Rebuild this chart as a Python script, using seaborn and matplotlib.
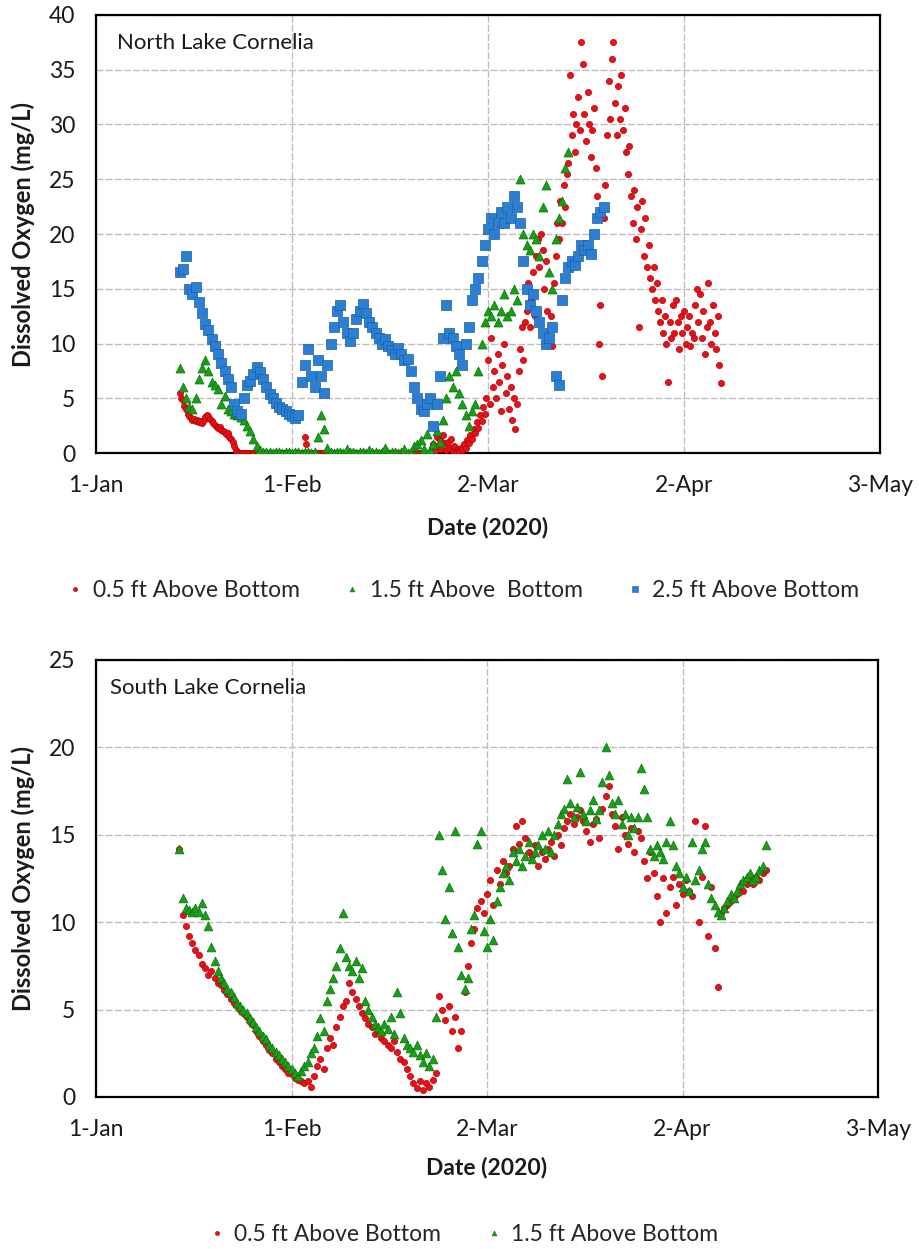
import numpy as np
import pandas as pd
import matplotlib
matplotlib.use("Agg")
import matplotlib.pyplot as plt
from matplotlib.lines import Line2D
import seaborn as sns

# ---------------- data (days after 1-Jan-2020, regular logger sampling) ----------------
x_tick_pos = [0, 30.5, 61, 91.5, 122]
x_tick_labels = ["1-Jan", "1-Feb", "2-Mar", "2-Apr", "3-May"]

# North Lake Cornelia, 0.5 ft above bottom (every 0.25 day from day 13)
north_05_start, north_05_step = 13.0, 0.25
north_05 = [
    5.5, 5.0, 4.8, 4.3,  4.0, 3.6, 3.4, 3.2,  3.0, 3.1, 2.9, 3.0,  2.8, 2.9, 2.7, 3.0,
    3.3, 3.5, 3.4, 3.1,  2.9, 2.7, 2.6, 2.4,  2.3, 2.4, 2.1, 2.0,  1.9, 1.7, 1.8, 1.5,
    1.3, 1.0, 0.6, 0.3,  0.1, 0, 0, 0,
    0, 0, 0, 0,  0, 0, 0, 0,  0, 0, 0, 0,  0, 0, 0, 0,  0, 0, 0, 0,
    0, 0, 0, 0,  0, 0, 0, 0,  0, 0, 0, 0,  0, 0, 0, 0,
    0, 0, 1.5, 0.8,
    0, 0, 0, 0,  0, 0, 0, 0,  0, 0, 0, 0,  0, 0, 0, 0,  0, 0, 0, 0,
    0, 0, 0, 0,  0, 0, 0, 0,  0, 0, 0, 0,  0, 0, 0, 0,  0, 0, 0, 0,
    0, 0, 0, 0,  0, 0, 0, 0,  0, 0, 0, 0,  0, 0, 0, 0,  0, 0, 0, 0,
    0, 0, 0, 0,  0, 0, 0, 0,  0, 0, 0, 0,  0, 0, 0, 0,
    0, 0.3, 0.8, 0.2,  1.5, 0.6, 1.2, 0.4,  1.6, 0.9, 0.3, 1.0,  0.5, 1.3, 0.2, 0.6,
    0.1, 0.4, 0.2, 0.5,  0.3, 0.8, 0.5, 1.2,  0.9, 1.6, 1.3, 2.2,  1.8, 2.8, 2.3, 3.5,
    2.9, 4.2, 3.6, 5.0,  8.5, 4.5, 10.5, 6.0,  7.5, 5.0, 9.0, 6.5,  3.8, 8.0, 10.0, 5.5,
    7.0, 4.0, 6.0, 3.0,  5.0, 2.2, 4.5, 7.5,  9.5, 11.5, 8.5, 12.0,  13.0, 15.5, 11.5, 14.0,
    16.5, 12.5, 18.0, 19.5,  17.0, 20.0, 18.5, 15.0,  17.5, 13.0, 10.5, 12.5,  9.8, 15.5, 18.0, 21.0,
    19.5, 23.0, 21.0, 24.5,  22.5, 25.5, 26.5, 34.5,  29.0, 31.0, 27.5, 30.0,  32.5, 29.5, 37.5, 35.5,
    31.0, 28.5, 33.0, 30.0,  27.0, 29.5, 31.5, 26.0,  23.5, 10.0, 13.5, 7.0,  21.5, 24.5, 29.0, 34.0,
    30.5, 36.0, 37.5, 32.0,  29.0, 33.5, 30.5, 34.5,  29.5, 31.5, 27.5, 25.5,  28.0, 23.5, 21.0, 24.0,
    19.5, 22.5, 11.5, 20.5,  23.0, 18.0, 21.5, 17.0,  19.0, 16.0, 15.0, 17.0,  14.0, 15.5, 13.0, 12.0,
    14.0, 11.0, 12.5, 10.0,  6.5, 12.0, 10.5, 13.5,  11.0, 14.0, 12.0, 9.5,  12.5, 11.0, 13.0, 10.0,
    11.5, 12.5, 9.8, 11.0,  10.5, 13.5, 15.0, 12.0,  14.5, 10.5, 13.0, 9.0,  11.5, 15.5, 12.0, 10.0,
    13.5, 11.0, 9.5, 12.5,  8.0, 6.4,
]

# North Lake Cornelia, 1.5 ft above bottom (every 0.5 day from day 13)
north_15_start, north_15_step = 13.0, 0.5
north_15 = [
    7.8, 6.0,  5.0, 4.2,  4.0, 5.0,  6.8, 7.8,  8.5, 7.5,  6.5, 6.2,  5.8, 4.5,  5.2, 4.0,
    3.8, 3.6,  3.5, 3.3,  3.0, 2.5,  2.0, 1.3,  0.6, 0.3,
    0.1, 0.05,  0.1, 0.0,  0.05, 0.1,  0.0, 0.05,  0.1, 0.0,  0.05, 0.1,  0.0, 0.05,  0.1, 0.0,
    0.1, 1.5,  3.5, 2.2,  0.5, 0.1,
    0.0, 0.05,  0.1, 0.0,  0.4, 0.05,  0.1, 0.0,  0.05, 0.1,  0.0, 0.3,  0.05, 0.1,
    0.0, 0.05,  0.5, 0.0,  0.1, 0.05,  0.0, 0.1,  0.4, 0.0,  0.1, 0.6,
    0.8, 1.2,  0.4, 1.7,  0.3, 0.8,  2.0, 1.0,  3.0, 5.0,  7.0, 6.0,  7.5, 5.5,  4.5, 3.5,
    2.5, 3.8,  4.5, 7.5,  10.0, 12.0,  13.0, 12.5,  13.5, 12.0,  13.0, 14.5,  12.5, 13.0,
    15.0, 14.0,  25.0, 20.0,  19.0, 18.5,  20.0, 19.5,  18.0, 22.5,  24.5, 16.5,  15.0, 19.5,
    21.5, 23.0,  26.0, 27.5,
]

# North Lake Cornelia, 2.5 ft above bottom (every 0.5 day from day 13)
north_25_start, north_25_step = 13.0, 0.5
north_25 = [
    16.5, 16.8,  18.0, 15.0,  14.5, 15.2,  13.8, 12.8,  11.8, 11.2,  10.4, 9.8,  9.0, 8.2,
    7.5, 6.8,  6.0, 4.5,  3.8, 3.6,  5.0, 6.2,  6.6, 7.2,  7.9, 7.4,  6.8, 6.0,  5.4, 5.0,
    4.6, 4.2,  4.0, 3.8,  3.6, 3.4,  3.2, 3.5,  6.5, 8.0,  9.5, 7.0,  6.0, 8.5,  7.0, 5.5,
    8.0, 10.0,  11.5, 13.0,  13.5, 12.0,  11.0, 10.2,  11.0, 12.2,  13.0, 13.6,  12.8, 12.0,
    11.5, 11.0,  10.5, 10.0,  10.4, 9.8,  9.4, 9.0,  9.6, 9.0,  8.5, 8.6,  7.5, 6.0,  5.0, 4.0,
    3.8, 4.5,  5.0, 2.5,  4.5, 7.0,  10.5, 13.5,  11.0, 10.5,  9.8, 9.0,  8.0, 10.0,
    11.5, 14.0,  15.0, 16.0,  17.5, 19.0,  20.5, 21.5,  20.0, 21.0,  22.0, 21.0,  22.5, 21.5,
    23.5, 22.5,  21.0, 17.5,  15.0, 13.5,  14.5, 13.0,  12.0, 11.0,  10.0, 10.5,  11.5, 7.0,
    6.2, 14.0,  16.0, 17.0,  17.5, 17.2,  18.0, 19.0,  18.5, 19.0,  18.2, 20.0,  21.5, 22.0,
    22.5,
]

# South Lake Cornelia, 0.5 ft above bottom (every 0.5 day from day 13)
south_05_start, south_05_step = 13.0, 0.5
south_05 = [
    14.2, 10.4,  9.8, 9.2,  8.8, 8.4,  8.1, 7.6,  7.4, 7.0,  7.2, 6.8,  6.5, 6.4,  6.1, 5.9,
    5.6, 5.4,  5.2, 5.0,  4.8, 4.6,  4.3, 4.1,  3.8, 3.5,  3.2, 3.0,  2.7, 2.5,  2.2, 2.0,
    1.8, 1.6,  1.4, 1.3,  1.1, 1.0,  0.9, 0.8,  0.9, 0.6,  1.2, 1.8,  2.2, 1.6,  2.8, 3.4,
    3.0, 4.0,  4.6, 5.2,  5.5, 6.5,  6.0, 5.6,  5.2, 4.8,  4.5, 4.2,  4.0, 3.6,  3.8, 3.4,
    3.2, 3.0,  2.8, 3.2,  2.6, 2.2,  2.0, 1.6,  1.2, 0.8,  0.5, 0.9,  0.4, 0.8,  0.6, 1.0,
    1.4, 5.8,  5.0, 4.4,  5.2, 3.8,  4.6, 2.8,  3.8, 6.0,  7.5, 8.8,  9.6, 10.8,  11.2, 10.5,
    11.6, 12.4,  11.0, 13.0,  12.2, 13.5,  12.8, 13.2,  14.2, 15.5,  14.5, 15.8,  14.8, 14.0,
    13.8, 14.4,  13.2, 14.0,  13.6, 14.2,  14.6, 13.8,  15.0, 14.4,  15.4, 15.8,  16.2, 15.6,
    16.0, 16.4,  15.8, 15.2,  14.6, 15.6,  15.9, 14.8,  16.5, 17.2,  17.8, 16.2,  15.5, 14.2,
    16.0, 15.0,  14.5, 15.4,  14.0, 15.2,  14.8, 13.5,  12.5, 14.0,  12.8, 11.5,  10.0, 12.5,
    10.5, 12.0,  12.6, 11.0,  12.2, 11.6,  12.4, 11.8,  11.5, 15.8,  10.0, 12.6,  15.5, 9.2,
    12.0, 8.5,  6.3, 10.5,  10.8, 11.0,  11.2, 11.4,  11.6, 12.0,  11.8, 12.2,  12.4, 12.2,
    12.6, 12.4,  12.8, 13.0,
]

# South Lake Cornelia, 1.5 ft above bottom (every 0.5 day from day 13)
south_15_start, south_15_step = 13.0, 0.5
south_15 = [
    14.2, 11.4,  10.8, 10.7,  10.6, 10.8,  10.6, 11.1,  10.4, 9.8,  8.6, 7.8,  7.2, 6.8,
    6.5, 6.2,  6.0, 5.7,  5.4, 5.2,  5.0, 4.8,  4.5, 4.3,  4.0, 3.8,  3.5, 3.3,  3.0, 2.8,
    2.6, 2.4,  2.2, 2.0,  1.8, 1.6,  1.4, 1.2,  1.5, 1.8,  2.0, 2.5,  2.8, 3.5,  4.5, 3.8,
    5.5, 6.2,  6.8, 7.5,  8.5, 10.5,  8.0, 7.5,  7.2, 7.8,  6.8, 7.4,  5.5, 5.0,  4.6, 4.2,
    4.0, 3.8,  4.2, 3.9,  4.6, 3.6,  6.0, 4.8,  3.4, 3.0,  2.8, 2.6,  3.0, 2.4,  2.0, 2.5,
    1.8, 2.2,  4.6, 15.0,  13.0, 10.2,  12.0, 9.4,  15.2, 8.6,  7.0, 6.2,  6.8, 9.6,
    10.4, 14.5,  15.2, 9.5,  8.6, 10.2,  9.0, 11.2,  12.0, 12.8,  13.2, 12.4,  14.0, 13.5,
    14.2, 13.2,  13.8, 14.6,  13.6, 14.0,  14.4, 15.0,  14.2, 15.2,  14.0, 15.0,  15.6, 16.2,
    16.5, 18.2,  16.8, 16.0,  16.6, 18.6,  16.2, 15.8,  16.4, 17.0,  15.9, 16.4,  18.0, 20.0,
    18.4, 16.8,  16.2, 17.0,  15.6, 16.2,  15.0, 16.0,  15.4, 16.0,  18.8, 17.6,  16.0, 14.2,
    13.8, 14.4,  14.0, 13.6,  14.6, 15.8,  14.4, 13.2,  12.8, 12.0,  12.6, 11.8,  14.6, 12.4,
    13.0, 14.2,  14.6, 12.2,  11.4, 11.0,  10.6, 10.4,  10.8, 11.2,  11.6, 11.4,  11.8, 12.2,
    12.4, 12.6,  12.8, 12.4,  12.6, 13.0,  13.2, 14.4,
]

legend_north = ["0.5 ft Above Bottom", "1.5 ft Above  Bottom", "2.5 ft Above Bottom"]
legend_south = ["0.5 ft Above Bottom", "1.5 ft Above Bottom"]


def frame(start, step, values):
    vals = np.asarray(values, dtype=float)
    return pd.DataFrame({"day": start + step * np.arange(len(vals)), "do": vals})


# ---------------- style ----------------
sns.set_style("white")
plt.rcParams["font.family"] = ["Lato", "DejaVu Sans"]

RED, RED_E = "#e5121b", "#b80000"
GREEN, GREEN_E = "#17a017", "#0b720b"
BLUE, BLUE_E = "#2b7fd2", "#1a5ea6"
GRID = "#bdbdbd"
INK = "#1a1a1a"

fig = plt.figure(figsize=(9.19, 12.49), dpi=100)
ax1 = fig.add_axes([0.1045, 0.6373, 0.8531, 0.3507])
ax2 = fig.add_axes([0.1045, 0.1217, 0.8509, 0.3499])

series_north = [
    (frame(north_05_start, north_05_step, north_05), "o", RED, RED_E, 20),
    (frame(north_15_start, north_15_step, north_15), "^", GREEN, GREEN_E, 42),
    (frame(north_25_start, north_25_step, north_25), "s", BLUE, BLUE_E, 50),
]
series_south = [
    (frame(south_05_start, south_05_step, south_05), "o", RED, RED_E, 20),
    (frame(south_15_start, south_15_step, south_15), "^", GREEN, GREEN_E, 40),
]

for ax, series in ((ax1, series_north), (ax2, series_south)):
    for df, mk, fc, ec, sz in series:
        sns.scatterplot(data=df, x="day", y="do", ax=ax, marker=mk, color=fc,
                        edgecolor=ec, linewidth=0.5, s=sz, legend=False, zorder=3)


def style_axes(ax, ymax, title, title_x, xl_y):
    ax.set_xlim(0, 122)
    ax.set_ylim(0, ymax)
    ax.set_xticks(x_tick_pos)
    ax.set_xticklabels(x_tick_labels)
    ax.set_yticks(np.arange(0, ymax + 1, 5))
    ax.tick_params(axis="both", length=0, labelsize=16.5, colors=INK)
    ax.tick_params(axis="x", pad=16)
    ax.tick_params(axis="y", pad=15)
    ax.grid(True, color=GRID, linestyle=(0, (5, 1.6)), linewidth=1.0, zorder=0)
    ax.set_axisbelow(True)
    for sp in ax.spines.values():
        sp.set_visible(True)
        sp.set_color("black")
        sp.set_linewidth(1.6)
    ax.set_xlabel("")
    ax.set_ylabel("")
    ax.text(0.5, xl_y, "Date (2020)", transform=ax.transAxes, ha="center", va="center",
            fontsize=16.5, fontweight="bold", color=INK)
    ax.text(-0.093, 0.5, "Dissolved Oxygen (mg/L)", transform=ax.transAxes, rotation=90,
            ha="center", va="center", fontsize=17, fontweight="bold", color=INK)
    ax.text(title_x, 0.936, title, transform=ax.transAxes,
            ha="left", va="center", fontsize=16, color=INK)


style_axes(ax1, 40, "North Lake Cornelia", 0.027, -0.169)
style_axes(ax2, 25, "South Lake Cornelia", 0.018, -0.162)


def handles(markers):
    return [Line2D([], [], linestyle="", marker=m, markersize=ms, markerfacecolor=c,
                   markeredgecolor=e, markeredgewidth=0.4) for m, c, e, ms in markers]


fig.legend(handles([("o", RED, RED_E, 3), ("^", GREEN, GREEN_E, 3.5), ("s", BLUE, BLUE_E, 4)]),
           legend_north, loc="center", bbox_to_anchor=(0.505, 0.527), ncol=3, frameon=False,
           fontsize=16.5, handlelength=0.6, handletextpad=0.45, columnspacing=2.0)
fig.legend(handles([("o", RED, RED_E, 3), ("^", GREEN, GREEN_E, 3.5)]),
           legend_south, loc="center", bbox_to_anchor=(0.505, 0.0115), ncol=2, frameon=False,
           fontsize=16.5, handlelength=0.6, handletextpad=0.45, columnspacing=2.0)

fig.savefig("out.png", dpi=100)
